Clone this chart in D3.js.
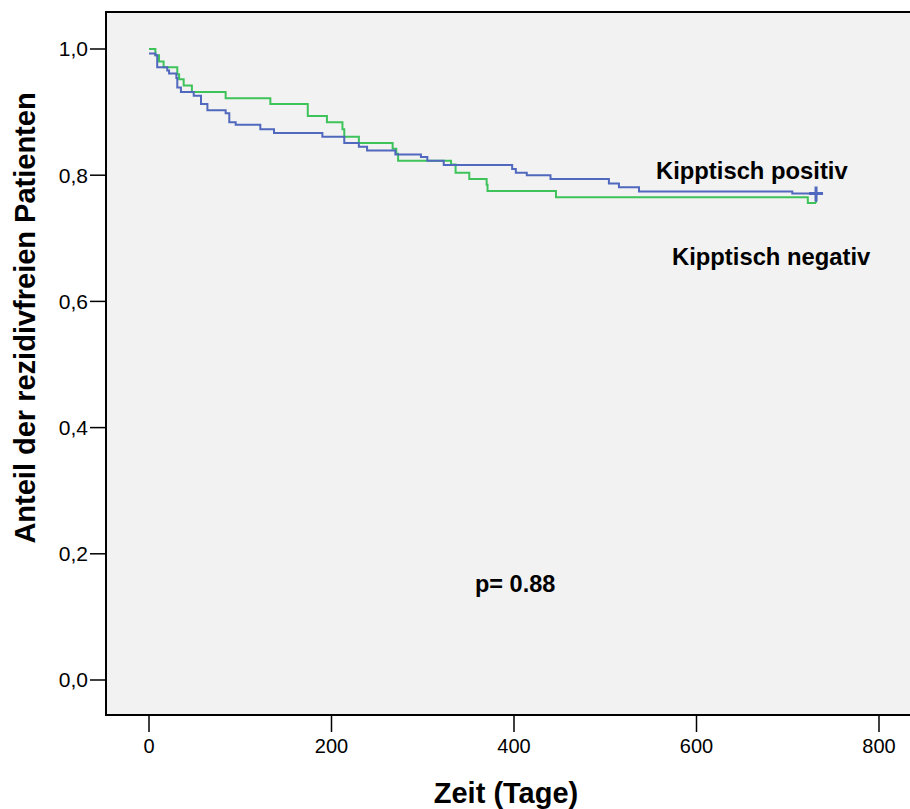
<!DOCTYPE html>
<html>
<head>
<meta charset="utf-8">
<script src="https://cdn.jsdelivr.net/npm/d3@7"></script>
<style>
  body { margin: 0; background: #fff; }
  text { font-family: "Liberation Sans", Arial, sans-serif; }
</style>
</head>
<body>
<svg width="910" height="809"></svg>
<script>
// Kipptisch positiv (blue) - step times in days and survival after each step
var posDays = [0, 7, 9, 20, 22, 30, 31, 35, 49, 57, 64, 84, 88, 95, 122, 137, 190, 214, 230, 239, 270, 298, 305, 323, 398, 402, 414, 440, 504, 515, 537, 705];
var posSurv = [0.993, 0.990, 0.971, 0.966, 0.961, 0.954, 0.939, 0.932, 0.926, 0.913, 0.903, 0.898, 0.884, 0.880, 0.873, 0.867, 0.861, 0.851, 0.845, 0.839, 0.833, 0.829, 0.823, 0.816, 0.810, 0.804, 0.800, 0.794, 0.787, 0.781, 0.774, 0.771];

// Kipptisch negativ (green)
var negDays = [0, 7, 11, 16, 31, 33, 38, 47, 84, 133, 174, 195, 212, 214, 230, 267, 271, 273, 331, 336, 351, 370, 371, 446, 722];
var negSurv = [1.0, 0.990, 0.980, 0.971, 0.960, 0.952, 0.942, 0.932, 0.922, 0.913, 0.894, 0.884, 0.873, 0.861, 0.851, 0.842, 0.834, 0.823, 0.817, 0.804, 0.794, 0.785, 0.775, 0.765, 0.756];

var lastDay = 731;   // censored at end of follow-up

var xTicks = [0, 200, 400, 600, 800];
var yTicks = [0, 0.2, 0.4, 0.6, 0.8, 1.0];

var svg = d3.select("svg");

var x = d3.scaleLinear().domain([0, 800]).range([149, 879]);
var y = d3.scaleLinear().domain([0, 1]).range([680, 49]);

var fmt = d3.formatLocale({ decimal: ",", thousands: ".", grouping: [3], currency: ["", "€"] }).format(".1f");

// plot area
svg.append("rect")
    .attr("x", 106).attr("y", 12)
    .attr("width", 830).attr("height", 703)
    .attr("fill", "#f2f2f2")
    .attr("stroke", "#000")
    .attr("stroke-width", 2);

// y ticks
var gy = svg.append("g");
gy.selectAll("line").data(yTicks).enter().append("line")
    .attr("x1", 90).attr("x2", 106)
    .attr("y1", function (d) { return y(d); })
    .attr("y2", function (d) { return y(d); })
    .attr("stroke", "#000").attr("stroke-width", 1.5);
gy.selectAll("text").data(yTicks).enter().append("text")
    .attr("x", 88)
    .attr("y", function (d) { return y(d); })
    .attr("dy", "0.35em")
    .attr("text-anchor", "end")
    .style("font-size", "21px")
    .text(function (d) { return fmt(d); });

// x ticks
var gx = svg.append("g");
gx.selectAll("line").data(xTicks).enter().append("line")
    .attr("y1", 716).attr("y2", 732)
    .attr("x1", function (d) { return x(d); })
    .attr("x2", function (d) { return x(d); })
    .attr("stroke", "#000").attr("stroke-width", 1.5);
gx.selectAll("text").data(xTicks).enter().append("text")
    .attr("y", 753)
    .attr("x", function (d) { return x(d); })
    .attr("text-anchor", "middle")
    .style("font-size", "20px")
    .text(function (d) { return d; });

// axis titles
svg.append("text")
    .attr("x", 506).attr("y", 803)
    .attr("text-anchor", "middle")
    .style("font-size", "29px").style("font-weight", "bold")
    .text("Zeit (Tage)");

svg.append("text")
    .attr("transform", "translate(35,318) rotate(-90)")
    .attr("text-anchor", "middle")
    .style("font-size", "29px").style("font-weight", "bold")
    .text("Anteil der rezidivfreien Patienten");

// survival curves
var line = d3.line()
    .x(function (d) { return x(d[0]); })
    .y(function (d) { return y(d[1]); })
    .curve(d3.curveStepAfter);

function pts(days, surv) {
    var p = days.map(function (d, i) { return [d, surv[i]]; });
    p.push([lastDay, surv[surv.length - 1]]);
    return p;
}

var green = "#3dc35a", blue = "#5068bd";

svg.append("path")
    .datum(pts(negDays, negSurv))
    .attr("d", line)
    .attr("fill", "none").attr("stroke", green).attr("stroke-width", 2);

// green censor tick
svg.append("line")
    .attr("x1", x(lastDay)).attr("x2", x(lastDay))
    .attr("y1", y(negSurv[negSurv.length - 1])).attr("y2", y(negSurv[negSurv.length - 1]) - 8)
    .attr("stroke", green).attr("stroke-width", 2);

svg.append("path")
    .datum(pts(posDays, posSurv))
    .attr("d", line)
    .attr("fill", "none").attr("stroke", blue).attr("stroke-width", 2);

// blue censor "+"
var cy = y(posSurv[posSurv.length - 1]), cx = x(lastDay);
svg.append("path")
    .attr("d", "M" + (cx - 7) + "," + cy + "H" + (cx + 7) + "M" + cx + "," + (cy - 7) + "V" + (cy + 8))
    .attr("stroke", blue).attr("stroke-width", 3).attr("fill", "none");

// labels
svg.append("text").attr("x", 656).attr("y", 179)
    .style("font-size", "23.8px").style("font-weight", "bold")
    .text("Kipptisch positiv");
svg.append("text").attr("x", 672).attr("y", 265)
    .style("font-size", "23.8px").style("font-weight", "bold")
    .text("Kipptisch negativ");
svg.append("text").attr("x", 475).attr("y", 592)
    .style("font-size", "23.5px").style("font-weight", "bold")
    .text("p= 0.88");
</script>
</body>
</html>
